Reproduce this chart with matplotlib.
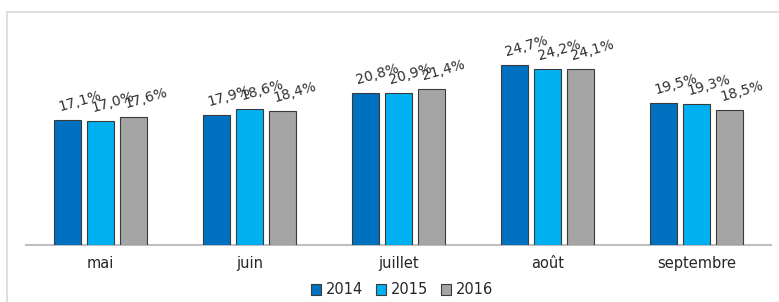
import matplotlib
matplotlib.use("Agg")
import matplotlib.pyplot as plt
from matplotlib.patches import Rectangle
import numpy as np

categories = ["mai", "juin", "juillet", "août", "septembre"]
series_names = ["2014", "2015", "2016"]
v2014 = [17.1, 17.9, 20.8, 24.7, 19.5]
v2015 = [17.0, 18.6, 20.9, 24.2, 19.3]
v2016 = [17.6, 18.4, 21.4, 24.1, 18.5]
labels2014 = ["17,1%", "17,9%", "20,8%", "24,7%", "19,5%"]
labels2015 = ["17,0%", "18,6%", "20,9%", "24,2%", "19,3%"]
labels2016 = ["17,6%", "18,4%", "21,4%", "24,1%", "18,5%"]
colors = ["#0070C0", "#00B0F0", "#A5A5A5"]

W, H = 779, 302
fig = plt.figure(figsize=(W / 100, H / 100), dpi=100)
fig.patch.set_facecolor("white")

# outer light border
fig.patches.append(Rectangle((7 / W, -0.1), 1.2, (H - 12) / H + 0.1,
                             transform=fig.transFigure, fill=False,
                             edgecolor="#D9D9D9", linewidth=1.2))

ax_left, ax_right = 26, 771
ax_top, ax_bottom = 20, 245
ax = fig.add_axes([ax_left / W, (H - ax_bottom) / H,
                   (ax_right - ax_left) / W, (ax_bottom - ax_top) / H])
px_per_unit = 7.29
ax.set_ylim(0, (ax_bottom - ax_top) / px_per_unit)
ax.set_xlim(-0.5, len(categories) - 0.5)

x = np.arange(len(categories))
pitch = 33 / 149
width = 27 / 149
allvals = [v2014, v2015, v2016]
alllabels = [labels2014, labels2015, labels2016]
for i, (vals, labs, name, col) in enumerate(zip(allvals, alllabels, series_names, colors)):
    pos = x + (i - 1) * pitch
    ax.bar(pos, vals, width=width, color=col, edgecolor="#3A3A3A",
           linewidth=0.8, label=name, zorder=3)
    for p, v, t in zip(pos, vals, labs):
        ax.annotate(t, xy=(p, v), xytext=(12, 6), textcoords="offset pixels",
                    ha="center", va="bottom", rotation=16, fontsize=10,
                    color="#303030")

for s in ["top", "right", "left"]:
    ax.spines[s].set_visible(False)
ax.spines["bottom"].set_color("#BFBFBF")
ax.spines["bottom"].set_linewidth(1.5)
ax.set_yticks([])
ax.set_xticks(x)
ax.set_xticklabels(categories, fontsize=10.5, color="#262626")
ax.tick_params(axis="x", length=0, pad=8)
ax.set_facecolor("none")

leg = fig.legend(loc="center", bbox_to_anchor=(402 / W, (H - 290) / H), ncol=3,
                 frameon=False, fontsize=10.5, handlelength=0.7, handleheight=0.7,
                 handletextpad=0.3, columnspacing=0.9)
for t in leg.get_texts():
    t.set_color("#262626")

fig.savefig("out.png", dpi=100, facecolor="white")
